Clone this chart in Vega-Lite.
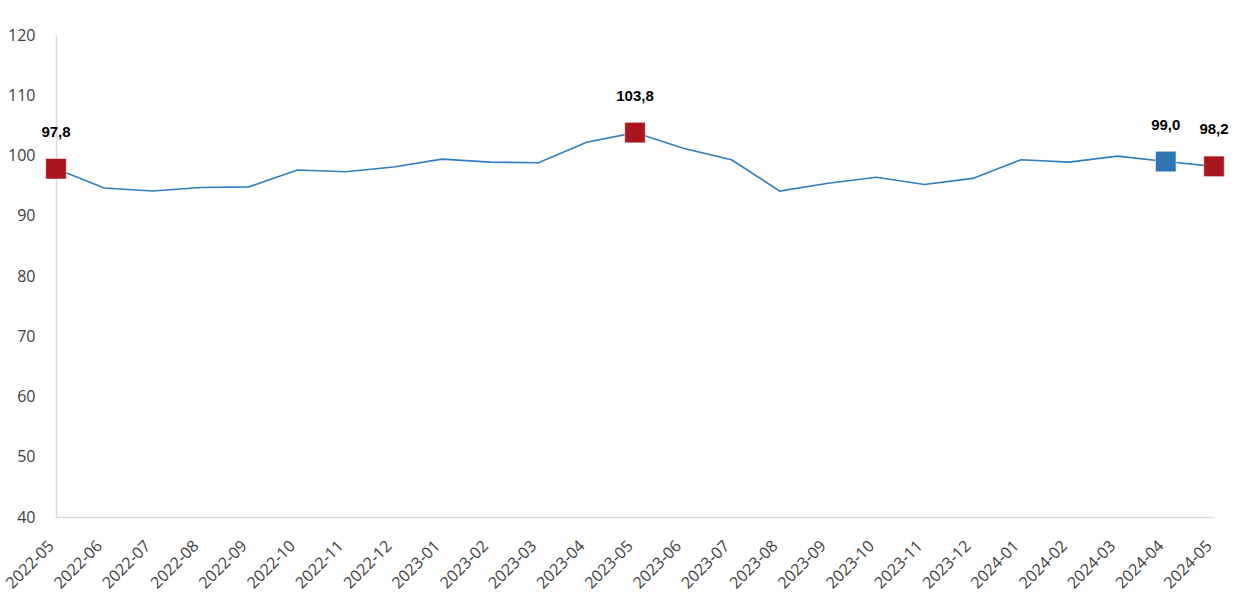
{
  "$schema": "https://vega.github.io/schema/vega-lite/v6.json",
  "width": 1158,
  "height": 482,
  "autosize": {"type": "none"},
  "padding": {"left": 56, "top": 35, "right": 43, "bottom": 91},
  "background": "white",
  "config": {"view": {"stroke": null}},
  "data": {"values": [
    {"month": "2022-05", "value": 97.8, "marker": "red", "label": "97,8"},
    {"month": "2022-06", "value": 94.6},
    {"month": "2022-07", "value": 94.1},
    {"month": "2022-08", "value": 94.7},
    {"month": "2022-09", "value": 94.8},
    {"month": "2022-10", "value": 97.6},
    {"month": "2022-11", "value": 97.3},
    {"month": "2022-12", "value": 98.1},
    {"month": "2023-01", "value": 99.4},
    {"month": "2023-02", "value": 98.9},
    {"month": "2023-03", "value": 98.8},
    {"month": "2023-04", "value": 102.2},
    {"month": "2023-05", "value": 103.8, "marker": "red", "label": "103,8"},
    {"month": "2023-06", "value": 101.2},
    {"month": "2023-07", "value": 99.3},
    {"month": "2023-08", "value": 94.1},
    {"month": "2023-09", "value": 95.4},
    {"month": "2023-10", "value": 96.4},
    {"month": "2023-11", "value": 95.2},
    {"month": "2023-12", "value": 96.2},
    {"month": "2024-01", "value": 99.3},
    {"month": "2024-02", "value": 98.9},
    {"month": "2024-03", "value": 99.9},
    {"month": "2024-04", "value": 99.0, "marker": "blue", "label": "99,0"},
    {"month": "2024-05", "value": 98.2, "marker": "red", "label": "98,2"}
  ]},
  "encoding": {
    "x": {
      "field": "month", "type": "ordinal", "sort": null,
      "scale": {"type": "point", "padding": 0},
      "axis": {
        "title": null, "labelAngle": -45, "labelAlign": "right", "labelBaseline": "middle",
        "labelFont": "Open Sans", "labelFontSize": 16, "labelColor": "#404040",
        "ticks": false, "labelPadding": 26, "labelOffset": -5, "domainColor": "#d9d9d9", "domainWidth": 1.5,
        "grid": false
      }
    },
    "y": {
      "field": "value", "type": "quantitative",
      "scale": {"domain": [40, 120], "nice": false, "zero": false},
      "axis": {
        "title": null, "values": [40, 50, 60, 70, 80, 90, 100, 110, 120],
        "labelFont": "Open Sans", "labelFontSize": 16, "labelColor": "#404040",
        "ticks": false, "labelPadding": 21, "domainColor": "#d9d9d9", "domainWidth": 1.5,
        "grid": false
      }
    }
  },
  "layer": [
    {"mark": {"type": "line", "color": "#2E7EC1", "strokeWidth": 1.6}},
    {
      "transform": [{"filter": "datum.marker != null"}],
      "mark": {"type": "point", "shape": "square", "filled": true, "size": 420, "opacity": 1, "stroke": "white", "strokeWidth": 0.5},
      "encoding": {
        "color": {
          "field": "marker", "type": "nominal",
          "scale": {"domain": ["red", "blue"], "range": ["#AA161D", "#2E75B6"]},
          "legend": null
        }
      }
    },
    {
      "transform": [{"filter": "datum.label != null"}],
      "mark": {"type": "text", "dy": -37, "fontWeight": "bold", "fontSize": 15, "font": "Liberation Sans Narrow, Liberation Sans", "color": "#000000"},
      "encoding": {"text": {"field": "label"}}
    }
  ]
}
